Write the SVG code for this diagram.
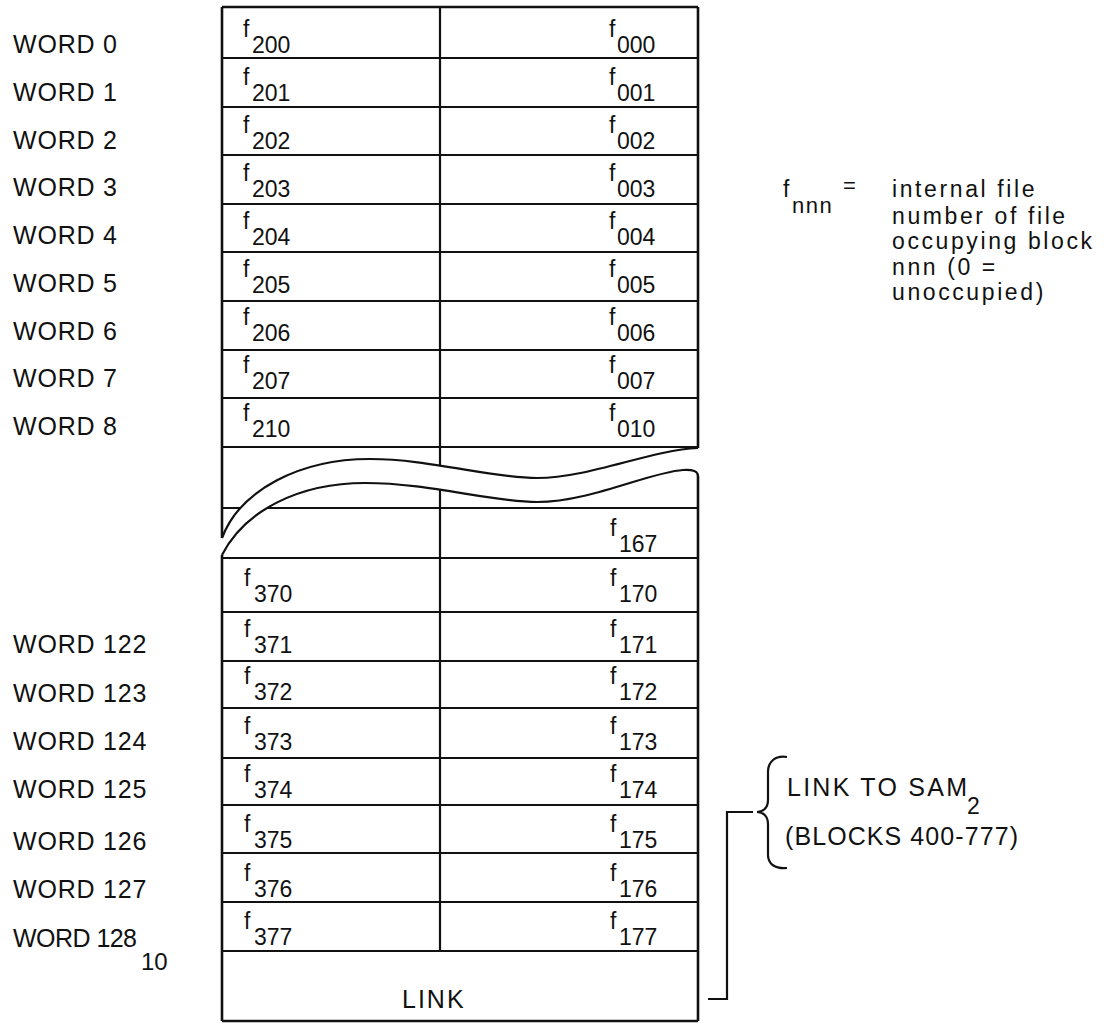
<svg xmlns="http://www.w3.org/2000/svg" width="1113" height="1024" viewBox="0 0 1113 1024">
<style>
text{font-family:"Liberation Sans",Arial,sans-serif;fill:#111}
.lbl{font-size:25px;letter-spacing:0.8px}
.f{font-size:23px}
.s{font-size:23px}
.ln{stroke:#111;stroke-width:2.2;fill:none}
.ob{stroke:#111;stroke-width:2.6;fill:none}
.leg{font-size:23px;letter-spacing:2.6px}
</style>
<rect width="1113" height="1024" fill="#fff"/>
<g id="table-frame">
<path class="ob" d="M222,7 H698 M222,7 V538 M222,555 V1021 M698,7 V448 M698,472 V1021 M222,1021 H698"/>
<path class="ln" d="M440,7 V951 M222,58 H698 M222,107 H698 M222,155 H698 M222,204 H698 M222,252 H698 M222,301 H698 M222,350 H698 M222,398 H698 M222,447 H698 M222,508 H698 M222,558 H698 M222,612 H698 M222,661 H698 M222,708 H698 M222,758 H698 M222,805 H698 M222,853 H698 M222,902 H698 M222,951 H698"/>
</g>
<g id="break">
<path fill="#fff" stroke="none" d="M222,538 C240,490 300,459 370,459 C430,459 490,478 537,478 C590,478 650,450 698,448 L701,448 L701,476 L698,476 Q698,469 683,470 C650,472 590,502 537,502 C490,502 430,483 365,483 C300,483 245,510 222,555 Z"/>
<path class="ln" d="M222,538 C240,490 300,459 370,459 C430,459 490,478 537,478 C590,478 650,450 698,448"/>
<path class="ln" d="M222,555 C245,510 300,483 365,483 C430,483 490,502 537,502 C590,502 650,472 683,470 Q698,469 698,476"/>
</g>
<g id="labels">
<text class="lbl" x="13" y="53">WORD 0</text>
<text class="lbl" x="13" y="101">WORD 1</text>
<text class="lbl" x="13" y="149">WORD 2</text>
<text class="lbl" x="13" y="196">WORD 3</text>
<text class="lbl" x="13" y="244">WORD 4</text>
<text class="lbl" x="13" y="292">WORD 5</text>
<text class="lbl" x="13" y="340">WORD 6</text>
<text class="lbl" x="13" y="387">WORD 7</text>
<text class="lbl" x="13" y="435">WORD 8</text>
<text class="lbl" x="13" y="653">WORD 122</text>
<text class="lbl" x="13" y="702">WORD 123</text>
<text class="lbl" x="13" y="750">WORD 124</text>
<text class="lbl" x="13" y="798">WORD 125</text>
<text class="lbl" x="13" y="850">WORD 126</text>
<text class="lbl" x="13" y="898">WORD 127</text>
<text x="13" y="947" style="font-size:25px" textLength="124" lengthAdjust="spacing">WORD 128</text>
<text x="141" y="970" style="font-size:24px">10</text>
</g>
<g id="row0"><text class="f" x="243" y="37">f</text><text class="s" x="252" y="53">200</text><text class="f" x="609" y="37">f</text><text class="s" x="617" y="53">000</text></g>
<g id="row1"><text class="f" x="243" y="85">f</text><text class="s" x="252" y="101">201</text><text class="f" x="609" y="85">f</text><text class="s" x="617" y="101">001</text></g>
<g id="row2"><text class="f" x="243" y="133">f</text><text class="s" x="252" y="149">202</text><text class="f" x="609" y="133">f</text><text class="s" x="617" y="149">002</text></g>
<g id="row3"><text class="f" x="243" y="181">f</text><text class="s" x="252" y="197">203</text><text class="f" x="609" y="181">f</text><text class="s" x="617" y="197">003</text></g>
<g id="row4"><text class="f" x="243" y="229">f</text><text class="s" x="252" y="245">204</text><text class="f" x="609" y="229">f</text><text class="s" x="617" y="245">004</text></g>
<g id="row5"><text class="f" x="243" y="277">f</text><text class="s" x="252" y="293">205</text><text class="f" x="609" y="277">f</text><text class="s" x="617" y="293">005</text></g>
<g id="row6"><text class="f" x="243" y="325">f</text><text class="s" x="252" y="341">206</text><text class="f" x="609" y="325">f</text><text class="s" x="617" y="341">006</text></g>
<g id="row7"><text class="f" x="243" y="373">f</text><text class="s" x="252" y="389">207</text><text class="f" x="609" y="373">f</text><text class="s" x="617" y="389">007</text></g>
<g id="row8"><text class="f" x="243" y="421">f</text><text class="s" x="252" y="437">210</text><text class="f" x="609" y="421">f</text><text class="s" x="617" y="437">010</text></g>
<g id="row167"><text class="f" x="610" y="536">f</text><text class="s" x="619" y="552">167</text></g>
<g id="row120"><text class="f" x="244" y="586">f</text><text class="s" x="254" y="602">370</text><text class="f" x="610" y="586">f</text><text class="s" x="619" y="602">170</text></g>
<g id="row122"><text class="f" x="244" y="637">f</text><text class="s" x="254" y="653">371</text><text class="f" x="610" y="637">f</text><text class="s" x="619" y="653">171</text></g>
<g id="row123"><text class="f" x="244" y="684">f</text><text class="s" x="254" y="700">372</text><text class="f" x="610" y="684">f</text><text class="s" x="619" y="700">172</text></g>
<g id="row124"><text class="f" x="244" y="734">f</text><text class="s" x="254" y="750">373</text><text class="f" x="610" y="734">f</text><text class="s" x="619" y="750">173</text></g>
<g id="row125"><text class="f" x="244" y="782">f</text><text class="s" x="254" y="798">374</text><text class="f" x="610" y="782">f</text><text class="s" x="619" y="798">174</text></g>
<g id="row126"><text class="f" x="244" y="832">f</text><text class="s" x="254" y="848">375</text><text class="f" x="610" y="832">f</text><text class="s" x="619" y="848">175</text></g>
<g id="row127"><text class="f" x="244" y="881">f</text><text class="s" x="254" y="897">376</text><text class="f" x="610" y="881">f</text><text class="s" x="619" y="897">176</text></g>
<g id="row128"><text class="f" x="244" y="929">f</text><text class="s" x="254" y="945">377</text><text class="f" x="610" y="929">f</text><text class="s" x="619" y="945">177</text></g>
<g id="link-row"><text x="402" y="1008" style="font-size:25px;letter-spacing:2px">LINK</text></g>
<g id="legend">
<text class="f" x="783" y="197">f</text>
<text x="792" y="213" style="font-size:22px;letter-spacing:1.5px">nnn</text>
<text x="843" y="193" style="font-size:22px">=</text>
<text class="leg" x="892" y="197">internal file</text>
<text class="leg" x="892" y="224">number of file</text>
<text class="leg" x="892" y="249">occupying block</text>
<text class="leg" x="892" y="275">nnn (0 =</text>
<text class="leg" x="892" y="300">unoccupied)</text>
</g>
<g id="connectors">
<path class="ln" d="M708,999 H727 V812 H753"/>
<path class="ln" d="M787,757 C775,755 768,762 768,772 L768,800 C768,808 763,812 757,812 C763,812 768,816 768,824 L768,855 C768,864 775,869 787,868"/>
</g>
<g id="link-note">
<text x="787" y="796" style="font-size:25px" textLength="180" lengthAdjust="spacing">LINK TO SAM</text>
<text x="967" y="814" style="font-size:23px">2</text>
<text x="785" y="845" style="font-size:25px" textLength="233" lengthAdjust="spacing">(BLOCKS 400-777)</text>
</g>
</svg>
